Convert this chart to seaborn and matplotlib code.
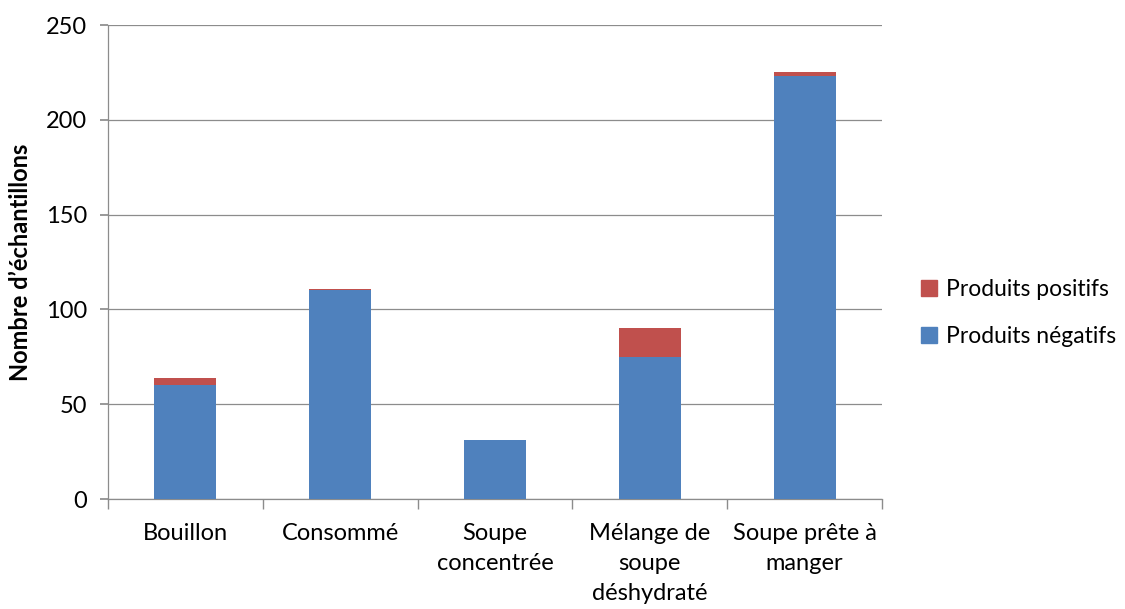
import pandas as pd
import numpy as np
import matplotlib
matplotlib.use("Agg")
import matplotlib.pyplot as plt
import seaborn as sns
from matplotlib.patches import Patch

# Data
categories = ["Bouillon", "Consommé", "Soupe\nconcentrée", "Mélange de\nsoupe\ndéshydraté", "Soupe prête à\nmanger"]
negatifs = [60, 110, 31, 75, 223]
positifs = [4, 1, 0, 15, 2]

df = pd.DataFrame({"Catégorie": categories, "Négatifs": negatifs, "Positifs": positifs})
df["Total"] = df["Négatifs"] + df["Positifs"]

sns.set_theme(style="white")
plt.rcParams['font.family'] = ['Lato', 'DejaVu Sans']
plt.rcParams['text.color'] = "black"
plt.rcParams['xtick.color'] = "black"
plt.rcParams['ytick.color'] = "black"

blue = "#4F81BD"
red = "#C0504D"

fig = plt.figure(figsize=(11.25, 6.09), dpi=100)
ax = fig.add_axes([0.096, 0.1806, 0.688, 0.7783])

# stacked bars: draw the totals in red, then the negatives on top in blue
sns.barplot(data=df, x="Catégorie", y="Total", color=red, width=0.4, saturation=1,
            linewidth=0, ax=ax, zorder=2)
sns.barplot(data=df, x="Catégorie", y="Négatifs", color=blue, width=0.4, saturation=1,
            linewidth=0, ax=ax, zorder=3)

ax.set_ylim(0, 250)
ax.set_xlim(-0.5, 4.5)
ax.set_yticks(np.arange(0, 251, 50))
ax.yaxis.grid(True, color="#8c8c8c", linewidth=0.9, zorder=0)
ax.set_axisbelow(True)

for side in ["top", "right"]:
    ax.spines[side].set_visible(False)
for side in ["left", "bottom"]:
    ax.spines[side].set_color("#8c8c8c")
    ax.spines[side].set_linewidth(0.9)

ax.set_xlabel("")
ax.set_ylabel("Nombre d’échantillons", fontsize=17, fontweight="bold", labelpad=10, color="black")
ax.tick_params(axis="y", labelsize=17, length=6, color="#8c8c8c", left=True, direction="out",
               pad=9, labelcolor="black")
ax.tick_params(axis="x", labelsize=17, length=0, pad=17, labelcolor="black")
ax.set_xticks(range(len(categories)))
ax.set_xticklabels(categories, linespacing=1.55, va="top")
ax.set_xticks(np.arange(-0.5, 5, 1), minor=True)
ax.tick_params(axis="x", which="minor", length=7, color="#8c8c8c", bottom=True, direction="out")

handles = [Patch(color=red, label="Produits positifs"), Patch(color=blue, label="Produits négatifs")]
fig.legend(handles=handles, loc="center left", bbox_to_anchor=(0.8, 0.486), frameon=False,
           fontsize=16.5, handlelength=0.7, handleheight=0.7, handletextpad=0.4, labelspacing=1.1)

plt.savefig("out.png", dpi=100)
